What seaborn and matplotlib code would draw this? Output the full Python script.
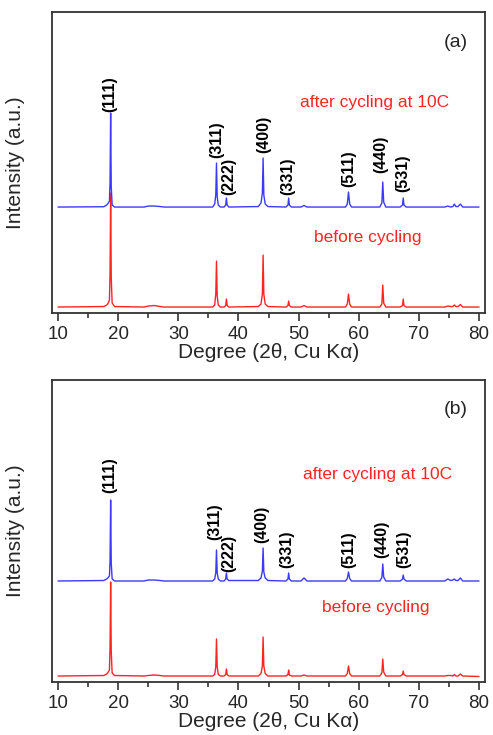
import numpy as np
import pandas as pd
import matplotlib
matplotlib.use("Agg")
import matplotlib.pyplot as plt
import seaborn as sns
from matplotlib.ticker import MultipleLocator

# ---------------- data ----------------
two_theta = [10.0,
             17.6, 18.1, 18.35, 18.55, 18.65, 18.75, 18.85, 19.0, 19.4,
             24.3, 25.0, 26.0, 27.0, 27.6,
             35.7, 36.05, 36.23, 36.35, 36.47, 36.65, 37.0,
             37.6, 37.88, 38.0, 38.12, 38.4,
             43.3, 43.75, 43.98, 44.1, 44.22, 44.45, 44.9,
             47.9, 48.23, 48.35, 48.47, 48.8,
             50.4, 50.9, 51.4,
             57.8, 58.1, 58.3, 58.5, 58.8,
             63.5, 63.85, 64.0, 64.15, 64.5,
             66.9, 67.28, 67.4, 67.52, 67.9,
             74.3, 74.8, 75.3, 75.65, 75.9, 76.15, 76.5, 76.9, 77.3,
             80.0]

a_before = [1,
            1.5, 3, 5, 8, 35, 115, 30, 5, 1.5,
            1, 2, 2.5, 1.5, 1,
            1, 3, 14, 47, 12, 3, 1,
            1, 2.5, 9, 2.5, 1,
            1.5, 4, 14, 53, 14, 4, 1.5,
            1, 2.5, 7, 2.5, 1,
            1, 2.5, 1,
            1, 4, 14, 4, 1,
            1, 4, 23, 5, 1,
            1, 2.5, 9, 2.5, 1,
            1, 2, 1.5, 1.5, 3, 1.5, 1.5, 3.5, 1,
            1]

a_after = [0,
           0.3, 2, 4, 6, 25, 94, 20, 2, 0,
           0, 1, 1, 0.5, 0,
           0, 3, 12, 44, 10, 2, 0,
           0, 2, 9, 2, 0,
           0.5, 4, 14, 49, 12, 3, 0.5,
           0, 2, 9, 2, 0,
           0, 1.5, 0,
           0, 3, 15, 3, 0,
           0, 4, 25, 5, 0,
           0, 2, 9, 2, 0,
           0, 1, 0, 0.5, 3, 0.5, 0.5, 3, 0,
           0]

b_before = [1,
            1.5, 3, 5, 7, 30, 95, 25, 4, 1.5,
            1, 1.5, 2, 1.5, 1,
            1, 2.5, 10, 38, 10, 2.5, 1,
            1, 2.5, 8, 2.5, 1,
            1, 3.5, 11, 40, 11, 3.5, 1,
            1, 2.5, 7, 2, 1,
            1, 2, 1,
            1, 3.5, 11, 3.5, 1,
            1, 4, 18, 5, 1,
            1, 2.5, 6, 2.5, 1,
            1, 1.5, 1.5, 1, 2.5, 1, 1, 3, 1,
            0.5]

b_after = [0,
           0.5, 2, 3.5, 5, 20, 81, 18, 2, 0,
           0, 1, 1, 0.5, 0,
           0, 2, 8, 31, 8, 2, 0,
           0, 2, 8, 2, 0.5,
           0.5, 3, 10, 33, 9, 3, 0.5,
           0, 2, 8, 2, 0,
           0, 3, 0,
           0, 2.5, 9, 2.5, 0,
           0, 3.5, 17, 4, 0,
           0, 2, 6, 2, 0,
           0, 2, 0.5, 1, 2, 0.5, 0.5, 3, 0,
           0]

peak_labels = ["(111)", "(311)", "(222)", "(400)", "(331)", "(511)", "(440)", "(531)"]
series_names = ["before cycling", "after cycling at 10C"]
x_ticks = [10, 20, 30, 40, 50, 60, 70, 80]

# ---------------- layout / style ----------------
OFFSET_A = 101
OFFSET_B = 96
label_x_a = [18.65, 36.44, 38.43, 44.25, 48.24, 58.39, 63.71, 67.37]
label_y_a = [196, 150, 113, 155, 113, 121, 135, 116]
label_x_b = [18.65, 36.10, 38.43, 43.90, 48.08, 58.39, 63.87, 67.53]
label_y_b = [184, 137, 105, 134, 109, 109, 119, 109]

sns.set_style("ticks")
plt.rcParams["font.family"] = ["Liberation Sans", "DejaVu Sans"]

RED = "#ff2424"
BLUE = "#3a3aff"
SPINE = "#333333"

fig = plt.figure(figsize=(4.93, 7.35), dpi=100)
ax_a = fig.add_axes([0.1055, 0.5741, 0.8783, 0.4095])
ax_b = fig.add_axes([0.1055, 0.0721, 0.8783, 0.4109])


def draw(ax, before, after, offset, lx, ly, tag, ylim, txt_after, txt_before):
    df = pd.DataFrame({
        "x": two_theta * 2,
        "y": list(before) + [v + offset for v in after],
        "series": [series_names[0]] * len(two_theta) + [series_names[1]] * len(two_theta),
    })
    sns.lineplot(data=df, x="x", y="y", hue="series", hue_order=series_names,
                 palette=[RED, BLUE], estimator=None, sort=False, legend=False,
                 linewidth=1.0, ax=ax)
    ax.set_xlim(9, 81)
    ax.set_ylim(*ylim)
    ax.set_xticks(x_ticks)
    ax.set_xticklabels([str(t) for t in x_ticks])
    ax.xaxis.set_minor_locator(MultipleLocator(5))
    ax.set_yticks([])
    ax.tick_params(axis="x", which="major", direction="out", length=6, width=1.2,
                   color=SPINE, labelsize=13.5, pad=3)
    ax.tick_params(axis="x", which="minor", direction="out", length=3.5, width=1.2,
                   color=SPINE)
    for s in ax.spines.values():
        s.set_visible(True)
        s.set_color(SPINE)
        s.set_linewidth(1.3)
    ax.set_xlabel("Degree (2θ, Cu Kα)", fontsize=15, labelpad=0)
    ax.set_ylabel("Intensity (a.u.)", fontsize=15)
    ax.yaxis.set_label_coords(-0.062, 0.5)
    for lab, x, y in zip(peak_labels, lx, ly):
        ax.text(x, y, lab, rotation=90, ha="center", va="bottom",
                fontsize=11.5, fontweight="bold", color="black")
    ax.text(txt_after[0], txt_after[1], "after cycling at 10C", color=RED,
            fontsize=12.5, ha="center", va="center")
    ax.text(txt_before[0], txt_before[1], "before cycling", color=RED,
            fontsize=12.5, ha="center", va="center")
    ax.text(76.2, ylim[1] - 30, tag, fontsize=14, ha="center", va="center")


draw(ax_a, a_before, a_after, OFFSET_A, label_x_a, label_y_a, "(a)", (-5, 296),
     (62.7, 206), (61.5, 71))
draw(ax_b, b_before, b_after, OFFSET_B, label_x_b, label_y_b, "(b)", (-5, 297),
     (63.2, 202), (62.9, 70))

fig.savefig("out.png", dpi=100)
